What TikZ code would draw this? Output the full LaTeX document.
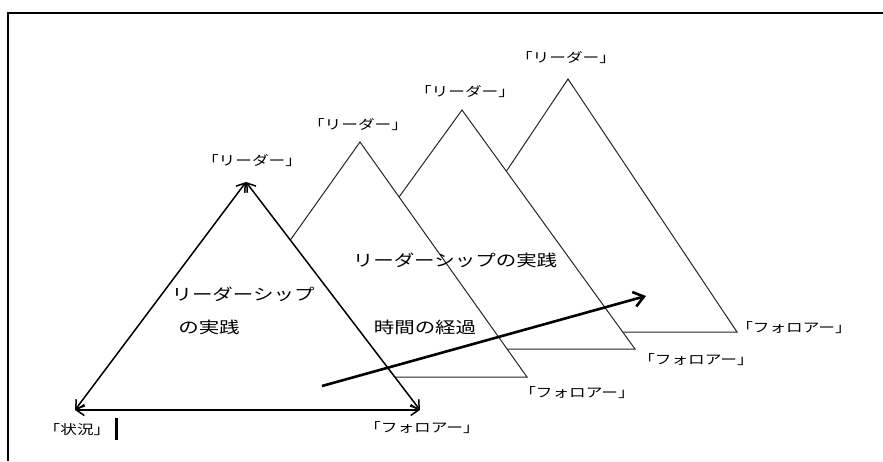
\documentclass[tikz,border=0pt]{standalone}
\usepackage{fontspec}
\newfontfamily\jpfont[FakeStretch=1.28]{Noto Sans CJK JP}
\usetikzlibrary{arrows.meta,positioning}
\tikzset{
  lbl/.style={font=\jpfont\fontsize{13}{15}\selectfont, inner sep=1pt},
  body/.style={font=\jpfont\fontsize{16}{18}\selectfont, inner sep=1pt},
  backtri/.style={draw=black!85, line width=1pt, fill=white},
  side/.style={{Straight Barb[length=8pt,width=11pt]}-{Straight Barb[length=8pt,width=11pt]}, line width=1.5pt},
  timearr/.style={-{Straight Barb[length=10pt,width=15pt]}, line width=2.6pt},
}

\begin{document}
\begin{tikzpicture}[x=1pt,y=-1pt]
  \useasboundingbox (0,0) rectangle (883,461);
  % frame
  \draw[line width=2pt] (8,461) -- (8,13) -- (883,13);
  % corners of the triangles
  \coordinate (t4top) at (568,79);  \coordinate (t4l) at (399,332); \coordinate (t4r) at (737,332);
  \coordinate (t3top) at (462,110); \coordinate (t3l) at (289,349); \coordinate (t3r) at (635,349);
  \coordinate (t2top) at (360,142); \coordinate (t2l) at (193,377); \coordinate (t2r) at (527,377);
  \coordinate (lead) at (246,182);  \coordinate (sit) at (75,410);  \coordinate (fol) at (420,410);
  % later triangles, back to front
  \filldraw[backtri] (t4l) -- (t4top) -- (t4r) -- cycle;
  \filldraw[backtri] (t3l) -- (t3top) -- (t3r) -- cycle;
  \filldraw[backtri] (t2l) -- (t2top) -- (t2r) -- cycle;
  % front triangle
  \fill[white] (sit) -- (lead) -- (fol) -- cycle;
  \draw[side] (sit) -- (lead);
  \draw[side] (lead) -- (fol);
  \draw[side] (sit) -- (fol);
  % labels
  \node[lbl] (lead1) at (252,161) {「リーダー」};
  \node[lbl] (lead2) at (358,125) {「リーダー」};
  \node[lbl] (lead3) at (465,92) {「リーダー」};
  \node[lbl] (lead4) at (566,58) {「リーダー」};
  \node[lbl] (fol1) at (422,428) {「フォロアー」};
  \node[lbl] (fol2) at (577,393) {「フォロアー」};
  \node[lbl] (fol3) at (696,360) {「フォロアー」};
  \node[lbl] (fol4) at (794,328) {「フォロアー」};
  \node[lbl] (sit1) at (77,430) {「状況」};
  \draw[line width=3pt] (116,418) -- (116,440);
  \node[body] (prac1a) at (243,294) {リーダーシップ};
  \node[body] (prac1b) at (209,327) {の実践};
  \node[body] (prac2) at (455,260) {リーダーシップの実践};
  \node[body] (time) at (425,327) {時間の経過};
  % passing of time
  \coordinate (tstart) at (322,386);
  \coordinate (tend) at (646,296);
  \draw[timearr] (tstart) -- (tend);
\end{tikzpicture}
\end{document}
